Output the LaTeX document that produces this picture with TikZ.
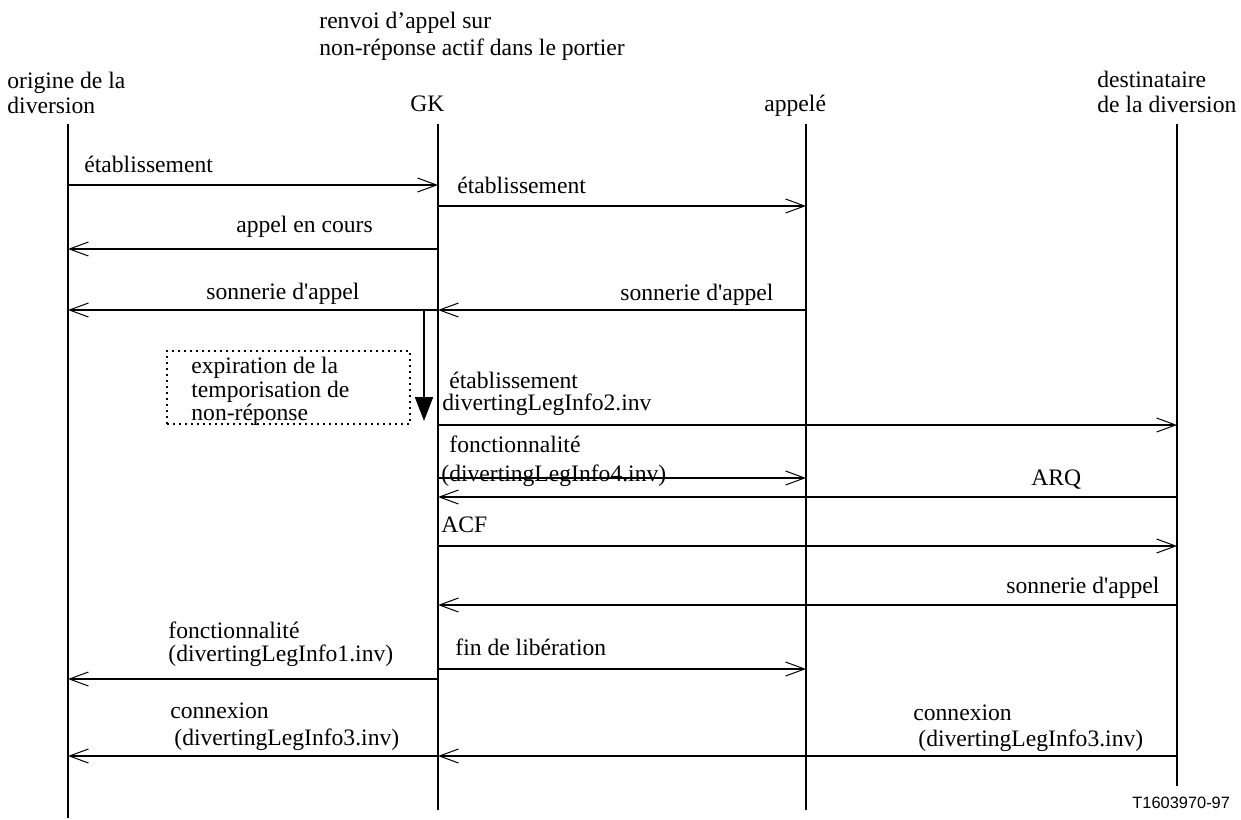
\documentclass[tikz,border=0pt]{standalone}
\usepackage{fontspec}
\setmainfont{Liberation Serif}
\newfontfamily\labsans{Liberation Sans}
\usetikzlibrary{arrows.meta}
\newcommand{\sq}{\textquotesingle}
\begin{document}
\begin{tikzpicture}[x=0.5pt,y=-0.5pt,
  txt/.style={anchor=base west,inner sep=0pt,font=\fontsize{11.8}{14}\selectfont},
  life/.style={line width=1pt},
  msg/.style={line width=1pt,-{Straight Barb[length=9.5pt,width=7pt,line width=0.5pt]}},
  timer/.style={line width=1pt,-{Triangle[length=12pt,width=9pt]}},
  timerbox/.style={draw,dotted,line width=1pt,minimum width=121.5pt,minimum height=36.5pt,inner sep=0pt,anchor=north west}]
\useasboundingbox (0,0) rectangle (1241,819);
% lifelines
\coordinate (Ot) at (68,124);  \coordinate (Ob) at (68,818);
\coordinate (Gt) at (438,124); \coordinate (Gb) at (438,810);
\coordinate (At) at (806,124); \coordinate (Ab) at (806,810);
\coordinate (Dt) at (1177,124);\coordinate (Db) at (1177,786);
\draw[life] (Ot) -- (Ob);
\draw[life] (Gt) -- (Gb);
\draw[life] (At) -- (Ab);
\draw[life] (Dt) -- (Db);
% headers
\node[txt] (h1) at (319,28) {renvoi d’appel sur};
\node[txt] (h2) at (319,55) {non-réponse actif dans le portier};
\node[txt] (o1) at (7,88) {origine de la};
\node[txt] (o2) at (7,113) {diversion};
\node[txt] (gk) at (410,111) {GK};
\node[txt] (ap) at (764,111) {appelé};
\node[txt] (d1) at (1097,87) {destinataire};
\node[txt] (d2) at (1097,112) {de la diversion};
% message rows
\coordinate (m1) at (0,185);
\coordinate (m2) at (0,206);
\coordinate (m3) at (0,249);
\coordinate (m4) at (0,310);
\coordinate (m8) at (0,425);
\coordinate (m9) at (0,478);
\coordinate (m10) at (0,497);
\coordinate (m11) at (0,546);
\coordinate (m12) at (0,605);
\coordinate (m13) at (0,679);
\coordinate (m14) at (0,669);
\coordinate (m15) at (0,756);
\draw[msg] (Ot|-m1) -- (Gt|-m1);
\draw[msg] (Gt|-m2) -- (At|-m2);
\draw[msg] (Gt|-m3) -- (Ot|-m3);
\draw[msg] (Gt|-m4) -- (Ot|-m4);
\draw[msg] (At|-m4) -- (Gt|-m4);
\draw[msg] (Gt|-m8) -- (Dt|-m8);
\draw[msg] (Gt|-m9) -- (At|-m9);
\draw[msg] (Dt|-m10) -- (Gt|-m10);
\draw[msg] (Gt|-m11) -- (Dt|-m11);
\draw[msg] (Dt|-m12) -- (Gt|-m12);
\draw[msg] (Gt|-m13) -- (Ot|-m13);
\draw[msg] (Gt|-m14) -- (At|-m14);
\draw[msg] (Gt|-m15) -- (Ot|-m15);
\draw[msg] (Dt|-m15) -- (Gt|-m15);
% timer
\coordinate (ts) at (424,310);
\coordinate (te) at (424,421);
\draw[timer] (ts) -- (te);
\node[timerbox] (box) at (166,350) {};
\node[txt] (b1) at (191,373) {expiration de la};
\node[txt] (b2) at (191,397) {temporisation de};
\node[txt] (b3) at (191,420) {non-réponse};
% labels
\node[txt] (l1) at (84,172) {établissement};
\node[txt] (l2) at (457,193) {établissement};
\node[txt] (l3) at (236,232) {appel en cours};
\node[txt] (l4) at (206,299) {sonnerie d\sq appel};
\node[txt] (l5) at (620,300) {sonnerie d\sq appel};
\node[txt] (l8a) at (449,388) {établissement};
\node[txt] (l8b) at (442,410) {divertingLegInfo2.inv};
\node[txt] (l9a) at (449,452) {fonctionnalité};
\node[txt] (l9b) at (441,481) {(divertingLegInfo4.inv)};
\node[txt] (l10) at (1031,485) {ARQ};
\node[txt] (l11) at (441,532) {ACF};
\node[txt] (l12) at (1006,593) {sonnerie d\sq appel};
\node[txt] (l13a) at (168,638) {fonctionnalité};
\node[txt] (l13b) at (168,661) {(divertingLegInfo1.inv)};
\node[txt] (l14) at (455,655) {fin de libération};
\node[txt] (l15a) at (170,718) {connexion};
\node[txt] (l15b) at (174,745) {(divertingLegInfo3.inv)};
\node[txt] (l16a) at (913,720) {connexion};
\node[txt] (l16b) at (918,746) {(divertingLegInfo3.inv)};
\node[anchor=base west,inner sep=0pt,font=\labsans\fontsize{8.2}{10}\selectfont] (ref) at (1132,808) {T1603970-97};
\end{tikzpicture}
\end{document}
